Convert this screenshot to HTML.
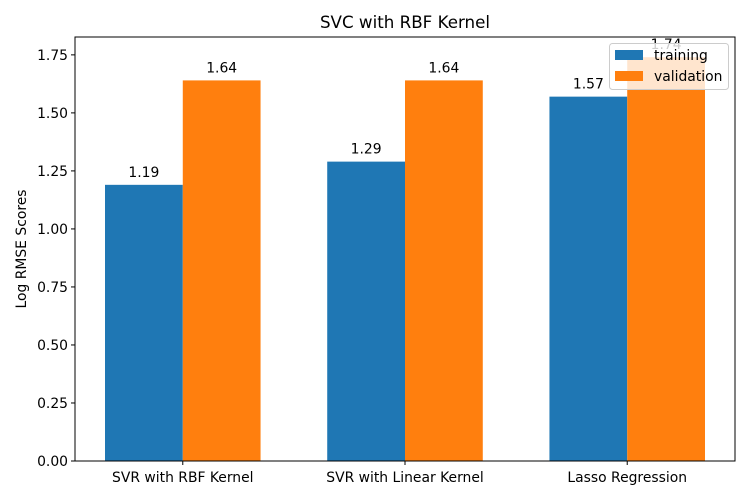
<!DOCTYPE html>
<html><head><meta charset="utf-8"><style>
body{margin:0;background:#fff;}
svg{display:block;font-family:"DejaVu Sans","Liberation Sans",sans-serif;}
</style></head><body>
<svg id="c" width="750" height="500" viewBox="0 0 750 500"></svg>
<script>
const categories = ["SVR with RBF Kernel","SVR with Linear Kernel","Lasso Regression"];
const trainingValues = [1.19,1.29,1.57];
const validationValues = [1.64,1.64,1.74];
const yTicks = [0,0.25,0.5,0.75,1.0,1.25,1.5,1.75];
const seriesNames = ["training","validation"];

const L=75,R=735,T=37,B=461;
const FS=13.9;
const ymax=Math.max(...trainingValues,...validationValues)*1.05;
const xmin=-0.485, xmax=categories.length-1+0.485;
const X=v=>L+(v-xmin)/(xmax-xmin)*(R-L);
const Y=v=>B-v/ymax*(B-T);
const svg=document.getElementById('c');
const NS="http://www.w3.org/2000/svg";
function mk(tag,attrs,text){const e=document.createElementNS(NS,tag);for(const k in attrs)e.setAttribute(k,attrs[k]);if(text!==undefined)e.textContent=text;svg.appendChild(e);return e;}
const bw=0.35;
const colors=["#1f77b4","#ff7f0e"];
[trainingValues,validationValues].forEach((vals,s)=>{
  vals.forEach((v,i)=>{
    const x0=X(i+(s===0?-bw:0)), x1=X(i+(s===0?0:bw));
    const r=mk('rect',{x:x0,y:Y(v),width:x1-x0,height:B-Y(v),fill:colors[s]});
    
    
    const t=mk('text',{x:(x0+x1)/2,y:Y(v)-8,'text-anchor':'middle','font-size':FS,fill:'#000'},v.toFixed(2));
    
    
  });
});
yTicks.forEach(v=>{
  const y=Y(v);
  const l=mk('line',{x1:L-4,x2:L,y1:y,y2:y,stroke:'#000','stroke-width':1});
  
  
  const t=mk('text',{x:L-7,y:y+5,'text-anchor':'end','font-size':FS},v.toFixed(2));
  
  
});
categories.forEach((c,i)=>{
  const x=X(i);
  const l=mk('line',{x1:x,x2:x,y1:B,y2:B+4,stroke:'#000','stroke-width':1});
  
  
  const t=mk('text',{x:x,y:B+21,'text-anchor':'middle','font-size':FS},c);
  
  
});
const frame=mk('rect',{x:L,y:T,width:R-L,height:B-T,fill:'none',stroke:'#000','stroke-width':1});


const title=mk('text',{x:(L+R)/2,y:T-9,'text-anchor':'middle','font-size':16.7},"SVC with RBF Kernel");


const yt=mk('text',{x:26,y:(T+B)/2,'text-anchor':'middle','font-size':FS,transform:`rotate(-90 26 ${(T+B)/2})`},"Log RMSE Scores");


const lg=mk('rect',{x:609.5,y:43.5,width:119,height:46,rx:3,fill:'#fff','fill-opacity':0.8,stroke:'#ccc','stroke-width':1});


seriesNames.forEach((n,s)=>{
  const y=50+s*21;
  const p=mk('rect',{x:615,y:y,width:28,height:10,fill:colors[s]});
  
  
  const t=mk('text',{x:654,y:y+10,'font-size':FS},n);
  
  
});
</script>
</body></html>
